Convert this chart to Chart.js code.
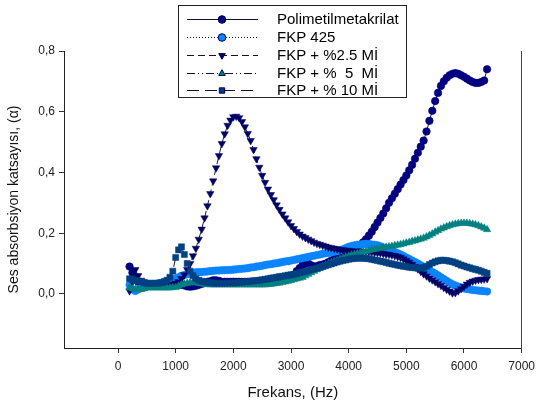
<!DOCTYPE html>
<html>
<head>
<meta charset="utf-8">
<script src="https://cdn.jsdelivr.net/npm/chart.js@4.4.0/dist/chart.umd.min.js"></script>
<style>
  body { margin: 0; background: #fff; }
</style>
</head>
<body>
<canvas id="grafik" width="541" height="405"></canvas>
<script>
// frekans (Hz), 50 Hz aralikla
const frekanslar = [
  200, 250, 300, 350, 400, 450, 500, 550, 600, 650,
  700, 750, 800, 850, 900, 950, 1000, 1050, 1100, 1150,
  1200, 1250, 1300, 1350, 1400, 1450, 1500, 1550, 1600, 1650,
  1700, 1750, 1800, 1850, 1900, 1950, 2000, 2050, 2100, 2150,
  2200, 2250, 2300, 2350, 2400, 2450, 2500, 2550, 2600, 2650,
  2700, 2750, 2800, 2850, 2900, 2950, 3000, 3050, 3100, 3150,
  3200, 3250, 3300, 3350, 3400, 3450, 3500, 3550, 3600, 3650,
  3700, 3750, 3800, 3850, 3900, 3950, 4000, 4050, 4100, 4150,
  4200, 4250, 4300, 4350, 4400, 4450, 4500, 4550, 4600, 4650,
  4700, 4750, 4800, 4850, 4900, 4950, 5000, 5050, 5100, 5150,
  5200, 5250, 5300, 5350, 5400, 5450, 5500, 5550, 5600, 5650,
  5700, 5750, 5800, 5850, 5900, 5950, 6000, 6050, 6100, 6150,
  6200, 6250, 6300, 6350, 6400
];

const polimetil = [
  0.09, 0.07, 0.05, 0.04, 0.035, 0.032, 0.03, 0.03, 0.03, 0.03,
  0.03, 0.03, 0.03, 0.03, 0.03, 0.03, 0.03, 0.03, 0.03, 0.028,
  0.025, 0.024, 0.025, 0.027, 0.03, 0.033, 0.036, 0.04, 0.042, 0.045,
  0.045, 0.043, 0.04, 0.04, 0.04, 0.04, 0.04, 0.04, 0.04, 0.04,
  0.04, 0.04, 0.04, 0.04, 0.04, 0.04, 0.04, 0.041, 0.042, 0.043,
  0.045, 0.046, 0.048, 0.049, 0.05, 0.052, 0.055, 0.063, 0.075, 0.085,
  0.095, 0.1, 0.1, 0.094, 0.09, 0.092, 0.095, 0.097, 0.1, 0.105,
  0.11, 0.115, 0.12, 0.125, 0.13, 0.135, 0.14, 0.145, 0.15, 0.155,
  0.162, 0.17, 0.18, 0.192, 0.205, 0.22, 0.235, 0.25, 0.265, 0.282,
  0.3, 0.315, 0.33, 0.345, 0.36, 0.375, 0.39, 0.407, 0.425, 0.445,
  0.465, 0.485, 0.505, 0.535, 0.57, 0.603, 0.635, 0.662, 0.685, 0.7,
  0.712, 0.72, 0.725, 0.727, 0.725, 0.72, 0.715, 0.709, 0.703, 0.698,
  0.695, 0.695, 0.698, 0.703, 0.74
];

const fkp425 = [
  0.03, 0.015, 0.01, 0.015, 0.02, 0.022, 0.025, 0.027, 0.03, 0.032,
  0.035, 0.037, 0.04, 0.042, 0.045, 0.047, 0.05, 0.055, 0.06, 0.062,
  0.065, 0.068, 0.07, 0.071, 0.072, 0.072, 0.073, 0.074, 0.075, 0.076,
  0.077, 0.077, 0.078, 0.078, 0.079, 0.079, 0.08, 0.081, 0.082, 0.083,
  0.084, 0.085, 0.087, 0.088, 0.09, 0.091, 0.093, 0.095, 0.097, 0.098,
  0.1, 0.101, 0.103, 0.105, 0.107, 0.108, 0.11, 0.112, 0.114, 0.116,
  0.118, 0.12, 0.122, 0.124, 0.126, 0.128, 0.13, 0.132, 0.134, 0.135,
  0.137, 0.139, 0.141, 0.144, 0.147, 0.151, 0.155, 0.158, 0.16, 0.162,
  0.163, 0.164, 0.165, 0.164, 0.163, 0.162, 0.16, 0.157, 0.153, 0.15,
  0.146, 0.142, 0.138, 0.134, 0.13, 0.125, 0.12, 0.115, 0.11, 0.105,
  0.1, 0.094, 0.088, 0.082, 0.077, 0.072, 0.067, 0.061, 0.055, 0.049,
  0.043, 0.037, 0.032, 0.028, 0.024, 0.021, 0.018, 0.016, 0.015, 0.013,
  0.012, 0.011, 0.01, 0.009, 0.008
];

const fkpMi25 = [
  0.01, 0.04, 0.08, 0.06, 0.045, 0.04, 0.035, 0.032, 0.03, 0.03,
  0.03, 0.03, 0.03, 0.03, 0.03, 0.032, 0.035, 0.04, 0.05, 0.063,
  0.08, 0.1, 0.125, 0.15, 0.18, 0.213, 0.25, 0.29, 0.33, 0.372,
  0.415, 0.455, 0.495, 0.527, 0.555, 0.572, 0.583, 0.585, 0.58, 0.567,
  0.55, 0.528, 0.505, 0.475, 0.445, 0.417, 0.39, 0.367, 0.345, 0.327,
  0.31, 0.293, 0.278, 0.263, 0.25, 0.237, 0.225, 0.215, 0.205, 0.197,
  0.19, 0.185, 0.18, 0.175, 0.17, 0.166, 0.163, 0.16, 0.157, 0.154,
  0.152, 0.15, 0.148, 0.146, 0.145, 0.144, 0.143, 0.142, 0.141, 0.14,
  0.14, 0.14, 0.14, 0.139, 0.138, 0.137, 0.136, 0.135, 0.133, 0.131,
  0.13, 0.128, 0.126, 0.123, 0.12, 0.115, 0.11, 0.104, 0.097, 0.09,
  0.082, 0.074, 0.066, 0.059, 0.052, 0.046, 0.04, 0.034, 0.028, 0.021,
  0.015, 0.009, 0.003, 0.004, 0.01, 0.017, 0.025, 0.032, 0.038, 0.042,
  0.045, 0.047, 0.048, 0.049, 0.05
];

const fkpMi5 = [
  0.02, 0.017, 0.015, 0.015, 0.015, 0.017, 0.02, 0.02, 0.02, 0.02,
  0.02, 0.02, 0.02, 0.02, 0.02, 0.021, 0.022, 0.026, 0.03, 0.033,
  0.035, 0.037, 0.038, 0.037, 0.035, 0.033, 0.032, 0.031, 0.03, 0.03,
  0.03, 0.03, 0.03, 0.03, 0.03, 0.03, 0.03, 0.03, 0.03, 0.03,
  0.03, 0.03, 0.03, 0.03, 0.03, 0.03, 0.03, 0.03, 0.031, 0.032,
  0.033, 0.035, 0.036, 0.038, 0.04, 0.042, 0.045, 0.047, 0.05, 0.052,
  0.055, 0.06, 0.065, 0.07, 0.075, 0.08, 0.085, 0.09, 0.095, 0.099,
  0.103, 0.107, 0.11, 0.114, 0.118, 0.122, 0.125, 0.128, 0.13, 0.133,
  0.135, 0.138, 0.14, 0.143, 0.145, 0.147, 0.149, 0.151, 0.152, 0.154,
  0.155, 0.157, 0.159, 0.161, 0.163, 0.165, 0.168, 0.17, 0.173, 0.175,
  0.178, 0.181, 0.184, 0.188, 0.193, 0.198, 0.204, 0.209, 0.214, 0.218,
  0.222, 0.225, 0.228, 0.23, 0.232, 0.233, 0.233, 0.233, 0.232, 0.23,
  0.228, 0.225, 0.221, 0.217, 0.212
];

const fkpMi10 = [
  0.05, 0.048, 0.045, 0.042, 0.04, 0.037, 0.035, 0.035, 0.035, 0.035,
  0.035, 0.037, 0.04, 0.045, 0.055, 0.075, 0.12, 0.145, 0.155, 0.13,
  0.1, 0.075, 0.06, 0.05, 0.045, 0.042, 0.04, 0.038, 0.037, 0.036,
  0.035, 0.035, 0.035, 0.035, 0.036, 0.036, 0.037, 0.037, 0.038, 0.039,
  0.04, 0.041, 0.042, 0.043, 0.044, 0.045, 0.047, 0.048, 0.05, 0.052,
  0.053, 0.055, 0.057, 0.058, 0.06, 0.062, 0.063, 0.065, 0.067, 0.07,
  0.072, 0.075, 0.077, 0.08, 0.082, 0.085, 0.087, 0.09, 0.093, 0.096,
  0.099, 0.102, 0.105, 0.108, 0.11, 0.112, 0.114, 0.116, 0.117, 0.118,
  0.118, 0.118, 0.117, 0.116, 0.114, 0.112, 0.11, 0.108, 0.106, 0.104,
  0.101, 0.099, 0.097, 0.095, 0.093, 0.091, 0.09, 0.088, 0.087, 0.086,
  0.085, 0.085, 0.087, 0.091, 0.097, 0.102, 0.106, 0.109, 0.111, 0.111,
  0.11, 0.108, 0.106, 0.103, 0.099, 0.095, 0.092, 0.089, 0.086, 0.083,
  0.081, 0.078, 0.075, 0.071, 0.068
];

const xTicks = [0, 1000, 2000, 3000, 4000, 5000, 6000, 7000];
const yTicks = [0, 0.2, 0.4, 0.6, 0.8];

const seriler = [
  { ad: "Polimetilmetakrilat", veri: polimetil, renk: "#000080", stil: "circle", donus: 0, cizgi: [], yaricap: 3.8, sira: 5 },
  { ad: "FKP 425", veri: fkp425, renk: "#0a84ff", stil: "circle", donus: 0, cizgi: [1, 2], yaricap: 3.8, sira: 4 },
  { ad: "FKP + %2.5 Mİ", veri: fkpMi25, renk: "#000066", stil: "triangle", donus: 180, cizgi: [7, 4], yaricap: 4.3, sira: 3 },
  { ad: "FKP + %  5  Mİ", veri: fkpMi5, renk: "#008080", stil: "triangle", donus: 0, cizgi: [8, 3, 1, 3, 1, 3], yaricap: 4.3, sira: 2 },
  { ad: "FKP + % 10 Mİ", veri: fkpMi10, renk: "#004080", stil: "rect", donus: 0, cizgi: [12, 6], yaricap: 4.3, sira: 1 }
];

const yaziTipi = "'Liberation Sans', Arial, sans-serif";

// SigmaPlot tarzi kutulu lejant
const legendPlugin = {
  id: "kutuLegend",
  afterDraw(chart) {
    const ctx = chart.ctx;
    ctx.save();
    ctx.fillStyle = "#fff";
    ctx.fillRect(178, 5, 228, 92);
    ctx.strokeStyle = "#222";
    ctx.lineWidth = 1;
    ctx.strokeRect(178.5, 5.5, 228, 92);
    const satirlar = [19, 37, 55, 73, 90];
    seriler.forEach((s, i) => {
      const y = satirlar[i] + 0.5;
      ctx.strokeStyle = "#111133";
      ctx.lineWidth = 1;
      ctx.setLineDash(s.cizgi);
      ctx.beginPath();
      ctx.moveTo(187, y);
      ctx.lineTo(258, y);
      ctx.stroke();
      ctx.setLineDash([]);
      ctx.fillStyle = s.renk;
      ctx.strokeStyle = "#000050";
      Chart.helpers.drawPoint(ctx, { pointStyle: s.stil, radius: 3.8, rotation: s.donus, borderWidth: 0.8 }, 222, y);
      ctx.fillStyle = "#000";
      ctx.font = "15px " + yaziTipi;
      ctx.textBaseline = "middle";
      ctx.textAlign = "left";
      ctx.fillText(s.ad, 277, satirlar[i] + 1);
    });
    ctx.restore();
  }
};

const ctx = document.getElementById("grafik").getContext("2d");

new Chart(ctx, {
  type: "scatter",
  data: {
    datasets: seriler.map((s) => ({
      label: s.ad,
      data: frekanslar.map((f, i) => ({ x: f, y: s.veri[i] })),
      showLine: true,
      borderColor: "#1a1a2a",
      borderWidth: 1,
      borderDash: s.cizgi,
      pointStyle: s.stil,
      pointRotation: s.donus,
      pointRadius: s.yaricap,
      pointBackgroundColor: s.renk,
      pointBorderColor: s.renk,
      pointBorderWidth: 0.5,
      order: s.sira
    }))
  },
  options: {
    responsive: false,
    devicePixelRatio: 1,
    animation: false,
    layout: { padding: { left: 0, right: 13, top: 51, bottom: 0 } },
    plugins: {
      legend: { display: false },
      tooltip: { enabled: false }
    },
    scales: {
      x: {
        type: "linear",
        min: -937,
        max: 7000,
        afterFit: (s) => { s.height = 57; },
        afterBuildTicks: (s) => { s.ticks = xTicks.map((v) => ({ value: v })); },
        grid: { display: true, drawOnChartArea: false, drawTicks: true, tickLength: 5, color: "#333" },
        border: { display: true, color: "#222", width: 1 },
        ticks: {
          color: "#222",
          font: { family: yaziTipi, size: 12 },
          padding: 6,
          maxRotation: 0,
          callback: (v) => String(v)
        },
        title: {
          display: true,
          text: "Frekans, (Hz)",
          color: "#111",
          font: { family: yaziTipi, size: 15 },
          padding: { top: 4, bottom: 3 }
        }
      },
      y: {
        type: "linear",
        min: -0.178,
        max: 0.8,
        afterFit: (s) => { s.width = 64; },
        afterBuildTicks: (s) => { s.ticks = yTicks.map((v) => ({ value: v })); },
        grid: { display: true, drawOnChartArea: false, drawTicks: true, tickLength: 5, color: "#333" },
        border: { display: true, color: "#222", width: 1 },
        ticks: {
          color: "#222",
          font: { family: yaziTipi, size: 12 },
          padding: 4,
          callback: (v) => v.toFixed(1).replace(".", ",")
        },
        title: {
          display: true,
          text: "Ses absorbsiyon katsayısı, (α)",
          color: "#111",
          font: { family: yaziTipi, size: 14 },
          padding: { top: 6, bottom: 0 }
        }
      },
      y2: {
        type: "linear",
        position: "right",
        min: -0.178,
        max: 0.8,
        afterFit: (s) => { s.width = 0; },
        grid: { display: false },
        ticks: { display: false },
        border: { display: true, color: "#444", width: 1 }
      }
    }
  },
  plugins: [legendPlugin]
});
</script>
</body>
</html>
